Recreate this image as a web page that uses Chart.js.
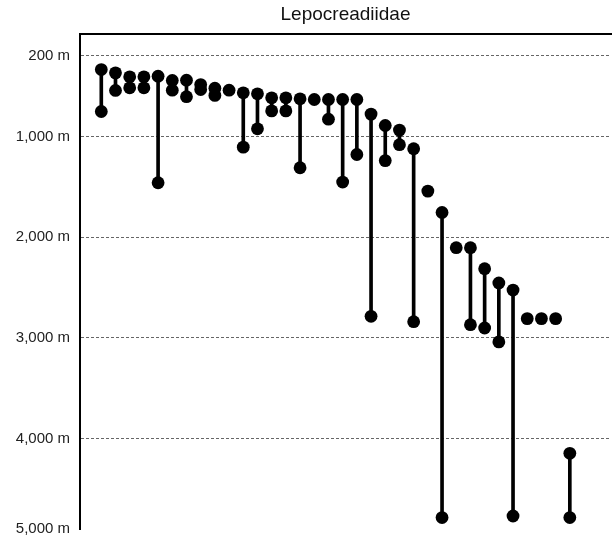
<!DOCTYPE html>
<html>
<head>
<meta charset="utf-8">
<title>Lepocreadiidae</title>
<script src="https://cdn.jsdelivr.net/npm/chart.js@4.4.1/dist/chart.umd.min.js"></script>
<style>
    html, body { margin: 0; padding: 0; background: #fff; overflow: hidden; }
    #grafico { display: block; }
</style>
</head>
<body>
<canvas id="grafico" width="612" height="536"></canvas>
<script>
const especies = [1, 2, 3, 4, 5, 6, 7, 8, 9, 10, 11, 12, 13, 14, 15, 16, 17,
    18, 19, 20, 21, 22, 23, 24, 25, 26, 27, 28, 29, 30, 31, 32, 33, 34];
const profMinima = [335, 368, 407, 407, 401, 444, 441, 484, 520, 540, 566, 576, 616, 616, 626, 633, 633,
    633, 633, 778, 891, 937, 1122, 1543, 1755, 2105, 2105, 2314, 2456, 2526, 2810, 2810, 2810, 4148];
const profMaxima = [752, 543, 517, 517, 1460, 540, 605, 534, 592, 540, 1106, 924, 746, 746, 1311, 633, 828,
    1453, 1179, 2787, 1240, 1082, 2840, 1543, 4786, 2105, 2870, 2903, 3041, 4771, 2810, 2810, 2810, 4786];
const yTickValues = [200, 1000, 2000, 3000, 4000, 5000];
const yTickLabels = ['200 m', '1,000 m', '2,000 m', '3,000 m', '4,000 m', '5,000 m'];

(function () {
    const canvas = document.getElementById('grafico');

    if (!canvas || typeof Chart === 'undefined') {
        return;
    }

    const hastes = especies.map(function (x, i) {
        return { x: x, y: [profMinima[i], profMaxima[i]] };
    });

    const pontos = [];
    especies.forEach(function (x, i) {
        pontos.push({ x: x, y: profMinima[i] });
        if (profMaxima[i] !== profMinima[i]) {
            pontos.push({ x: x, y: profMaxima[i] });
        }
    });

    new Chart(canvas, {
        type: 'bar',
        data: {
            datasets: [{
                type: 'line',
                label: 'pontos',
                data: pontos,
                showLine: false,
                pointRadius: 6.4,
                pointHoverRadius: 6.4,
                pointBackgroundColor: '#000',
                pointBorderWidth: 0,
                clip: false,
                order: 0
            }, {
                label: 'amplitude',
                data: hastes,
                backgroundColor: '#000',
                barThickness: 3,
                grouped: false,
                order: 1
            }]
        },
        options: {
            responsive: false,
            animation: false,
            layout: {
                autoPadding: false,
                padding: { left: 0, right: 1, top: 0, bottom: 7 }
            },
            scales: {
                x: {
                    type: 'linear',
                    position: 'top',
                    offset: false,
                    min: -0.5,
                    max: 36.9,
                    grid: { display: false, drawTicks: false },
                    ticks: { display: false },
                    border: { display: true, color: '#000', width: 2 }
                },
                y: {
                    type: 'linear',
                    reverse: true,
                    min: -20,
                    max: 4900,
                    afterBuildTicks: function (scale) {
                        scale.ticks = yTickValues.map(function (v) {
                            return { value: Math.min(v, scale.max) };
                        });
                    },
                    afterFit: function (scale) {
                        scale.width = 80;
                        scale.paddingTop = 0;
                        scale.paddingBottom = 0;
                    },
                    grid: {
                        drawTicks: false,
                        lineWidth: 1,
                        color: function (ctx) {
                            return ctx.index === yTickValues.length - 1 ? 'rgba(0,0,0,0)' : '#666';
                        }
                    },
                    border: { display: true, color: '#000', width: 2, dash: [3, 2] },
                    ticks: {
                        padding: 10,
                        color: '#222',
                        font: { family: '"Liberation Sans", Arial, sans-serif', size: 15 },
                        callback: function (value, index) {
                            return yTickLabels[index];
                        }
                    }
                }
            },
            plugins: {
                legend: { display: false },
                tooltip: { enabled: false },
                title: {
                    display: true,
                    text: 'Lepocreadiidae',
                    fullSize: false,
                    color: '#111',
                    font: { family: '"Liberation Sans", Arial, sans-serif', size: 19, weight: 'normal' },
                    padding: { top: 3, bottom: 8 }
                }
            }
        }
    });
})();
</script>
</body>
</html>
